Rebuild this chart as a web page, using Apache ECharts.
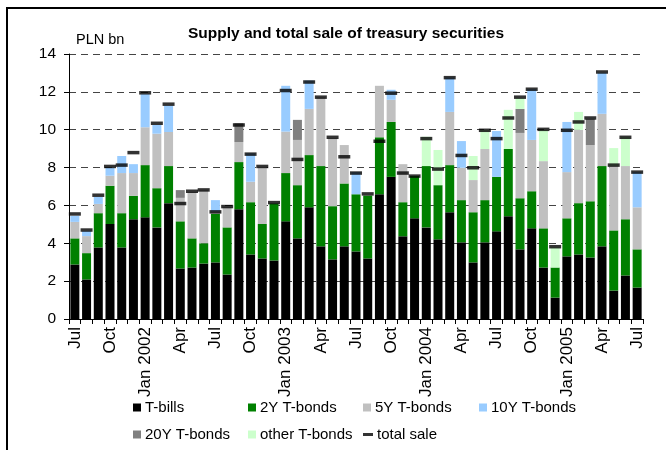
<!DOCTYPE html>
<html><head><meta charset="utf-8">
<script src="https://cdn.jsdelivr.net/npm/echarts@6/dist/echarts.min.js"></script>
<style>
html,body{margin:0;padding:0;background:#fff;}
#c{position:absolute;left:0;top:0;width:666px;height:450px;}
#frame{position:absolute;left:6px;top:7px;width:800px;height:600px;border-left:2px solid #000;border-top:2px solid #000;pointer-events:none;}
</style></head>
<body>
<div id="c"></div><div id="frame"></div>
<script>
const categories = ['Jul','Aug','Sep','Oct','Nov','Dec',
 'Jan 2002','Feb','Mar','Apr','May','Jun','Jul','Aug','Sep','Oct','Nov','Dec',
 'Jan 2003','Feb','Mar','Apr','May','Jun','Jul','Aug','Sep','Oct','Nov','Dec',
 'Jan 2004','Feb','Mar','Apr','May','Jun','Jul','Aug','Sep','Oct','Nov','Dec',
 'Jan 2005','Feb','Mar','Apr','May','Jun','Jul'];
const tBills = [2.88,2.09,3.78,5.02,3.78,5.27,5.37,4.84,6.12,2.67,2.72,2.93,2.99,2.35,5.80,3.41,3.20,3.09,5.16,4.26,5.90,3.84,3.15,3.84,3.57,3.20,6.59,7.51,4.37,5.32,4.84,4.21,5.64,4.05,2.99,4.05,4.63,5.43,3.68,4.79,2.72,1.13,3.31,3.41,3.25,3.84,1.50,2.30,1.66];
const bonds2Y = [1.38,1.39,1.81,2.02,1.81,1.24,2.76,2.07,1.96,2.49,1.54,1.07,2.57,2.49,2.49,2.76,1.82,3.01,2.55,2.81,2.76,4.24,2.81,3.32,3.02,3.32,3.01,2.90,1.80,2.23,3.24,2.86,2.49,2.23,2.65,2.23,2.88,3.55,2.70,1.96,2.07,1.59,2.01,2.71,2.97,4.24,3.18,2.97,2.02];
const bonds5Y = [0.87,0.90,0.49,0.53,2.12,1.20,2.00,2.88,1.80,1.24,2.46,2.81,0.12,1.08,1.06,1.08,3.02,0,2.19,2.39,2.44,3.64,3.59,2.03,0,0,2.72,1.17,2.01,0,0,0,2.81,1.71,1.70,2.70,0,0,3.45,2.71,3.55,0,2.44,3.87,2.97,2.76,3.40,2.81,2.22];
const bonds10Y = [0.32,0.27,0.37,0.42,0.90,0.47,1.75,0.46,1.40,0,0,0,0.60,0,0,1.50,0,0,2.42,0,1.50,0,0,0,1.17,0,0,0.53,0,0,0,0,1.82,1.41,0,0,2.42,0,0,2.68,0,0,2.65,0,0,2.17,0,0,1.86];
const bonds20Y = [0,0,0,0,0,0,0,0,0,0.41,0,0,0,0,0.99,0,0,0,0,1.06,0,0,0,0,0,0,0,0,0,0,0,0,0,0,0,0,0,0,1.27,0,0,0,0,0,1.38,0,0,0,0];
const bondsOther = [0,0,0,0,0,0,0,0,0,0,0,0,0,0,0,0,0,0,0,0,0,0,0,0,0,0,0,0,0,0,1.55,1.86,0,0,1.27,1.01,0,2.07,0.57,0,1.65,1.08,0,0.95,0,0,0.95,1.54,0];
const totalSale = [5.55,4.70,6.54,8.06,8.13,8.79,11.95,10.34,11.35,6.10,6.75,6.82,5.66,5.94,10.25,8.71,8.06,6.15,12.07,8.43,12.52,11.72,9.60,8.57,7.71,6.61,9.39,11.93,7.71,7.55,9.53,7.92,12.75,8.64,7.99,9.97,9.53,10.62,11.72,12.14,10.02,3.82,9.97,10.41,10.62,13.05,8.13,9.60,7.76];
const yTicks = [0,2,4,6,8,10,12,14];

const sans = '"Liberation Sans",Arial,sans-serif';

const stackDefs = [
  ['T-bills', tBills, '#000000'],
  ['2Y T-bonds', bonds2Y, '#008000'],
  ['5Y T-bonds', bonds5Y, '#C0C0C0'],
  ['10Y T-bonds', bonds10Y, '#99CCFF'],
  ['20Y T-bonds', bonds20Y, '#808080'],
  ['other T-bonds', bondsOther, '#CCFFCC']
];
const series = stackDefs.map(d => ({
  name: d[0], type: 'bar', stack: 'sum', data: d[1], barWidth: 9,
  itemStyle: {color: d[2]}, emphasis: {disabled: true}
}));
series.push({
  name: 'total sale', type: 'scatter', data: totalSale, symbol: 'rect',
  symbolSize: [12, 3.5], itemStyle: {color: '#000'}, z: 10, emphasis: {disabled: true}
});

const legendPos = [
  ['T-bills', 133, 400], ['2Y T-bonds', 248, 400], ['5Y T-bonds', 363, 400], ['10Y T-bonds', 479, 400],
  ['20Y T-bonds', 133, 427], ['other T-bonds', 248, 427], ['total sale', 363, 427]
];
const legends = legendPos.map(p => ({
  data: [{name: p[0], icon: 'rect'}], left: p[1], top: p[2],
  itemWidth: p[0] === 'total sale' ? 10 : 8, itemHeight: p[0] === 'total sale' ? 3 : 8,
  itemGap: 4, padding: 0, selectedMode: false,
  textStyle: {fontFamily: sans, fontSize: 15, color: '#000', padding: [0,0,0,-1]}
}));

const chart = echarts.init(document.getElementById('c'), null, {renderer: 'canvas'});
chart.setOption({
  animation: false,
  backgroundColor: '#fff',
  title: {
    text: 'Supply and total sale of treasury securities', left: 341, top: 21, textAlign: 'center',
    textStyle: {fontFamily: sans, fontSize: 15.5, fontWeight: 'bold', color: '#000'}
  },
  graphic: [{type: 'text', left: 76, top: 32, style: {text: 'PLN bn', font: '14.5px ' + sans, fill: '#000'}}],
  legend: legends,
  grid: {left: 69, right: 23, top: 54, bottom: 131, containLabel: false},
  xAxis: {
    type: 'category', data: categories,
    axisLine: {lineStyle: {color: '#000', width: 1}},
    axisTick: {show: true, interval: 0, length: 5, lineStyle: {color: '#000'}},
    axisLabel: {interval: 2, rotate: 90, margin: 8, fontFamily: sans, fontSize: 17, color: '#000'}
  },
  yAxis: {
    type: 'value', min: yTicks[0], max: yTicks[yTicks.length-1], interval: 2,
    axisLine: {show: true, lineStyle: {color: '#000', width: 1}},
    axisTick: {show: true, length: 5, lineStyle: {color: '#000'}},
    axisLabel: {margin: 13, fontFamily: sans, fontSize: 15.5, color: '#000'},
    splitLine: {show: true, lineStyle: {color: '#444', type: [7, 5], width: 1}}
  },
  series: series
});
</script>
</body></html>
